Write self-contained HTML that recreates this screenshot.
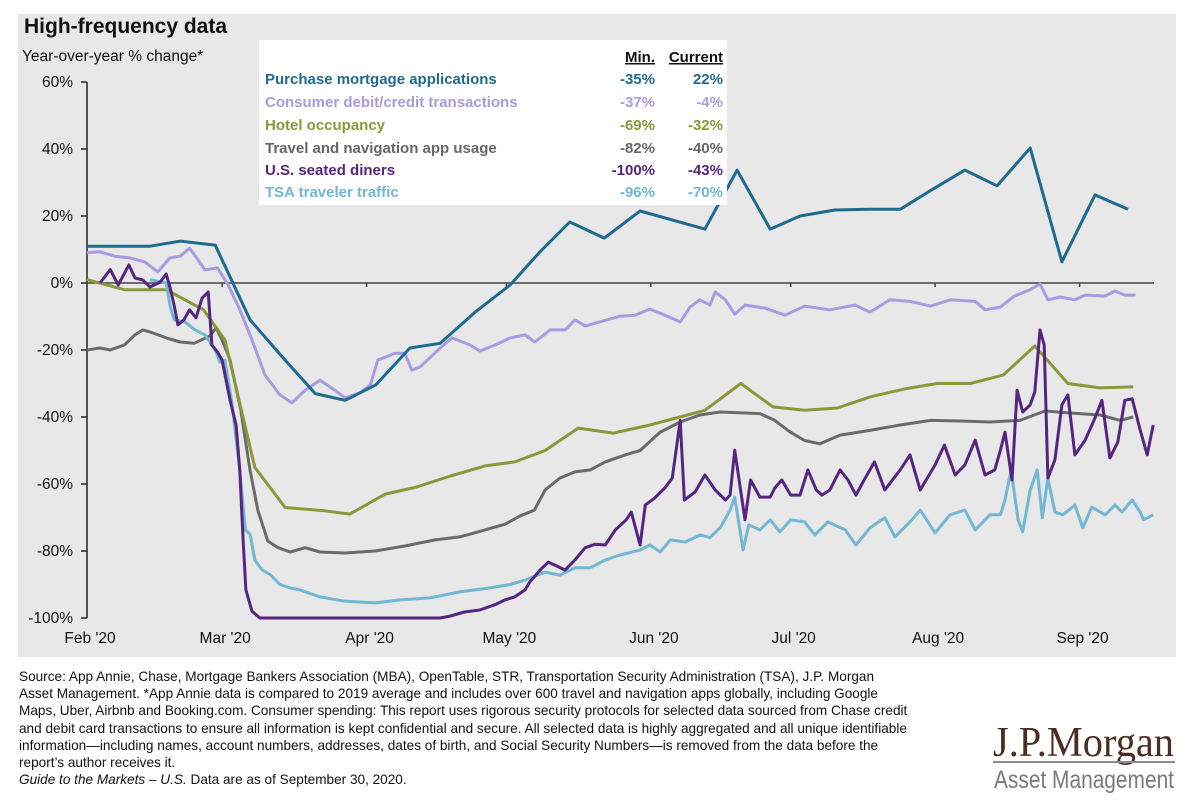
<!DOCTYPE html>
<html><head><meta charset="utf-8">
<style>
body{margin:0;width:1200px;height:807px;background:#fff;overflow:hidden;font-family:"Liberation Sans",Arial,sans-serif;}
svg text{font-family:"Liberation Sans",Arial,sans-serif;}
</style></head>
<body>
<svg id="chart" width="1200" height="807" viewBox="0 0 1200 807">
  <rect x="18" y="14" width="1158" height="643" fill="#e8e8e8"/>
  <text x="24" y="33" font-size="21" font-weight="bold" fill="#111">High-frequency data</text>
  <text x="22" y="61" font-size="15.5" fill="#111">Year-over-year % change*</text>
  <g id="axes"></g>
  <g id="lines"></g>
  <g>
    <rect x="259" y="40" width="468" height="165" fill="#fff"/>
    <g font-size="15" font-weight="bold">
      <text x="655" y="62" text-anchor="end" fill="#111" text-decoration="underline">Min.</text>
      <text x="723" y="62" text-anchor="end" fill="#111" text-decoration="underline">Current</text>
      <g fill="#1f6a8f"><text x="265" y="84">Purchase mortgage applications</text><text x="655" y="84" text-anchor="end">-35%</text><text x="723" y="84" text-anchor="end">22%</text></g>
      <g fill="#a99be0"><text x="265" y="107">Consumer debit/credit transactions</text><text x="655" y="107" text-anchor="end">-37%</text><text x="723" y="107" text-anchor="end">-4%</text></g>
      <g fill="#8c973a"><text x="265" y="130">Hotel occupancy</text><text x="655" y="130" text-anchor="end">-69%</text><text x="723" y="130" text-anchor="end">-32%</text></g>
      <g fill="#666"><text x="265" y="153">Travel and navigation app usage</text><text x="655" y="153" text-anchor="end">-82%</text><text x="723" y="153" text-anchor="end">-40%</text></g>
      <g fill="#55257f"><text x="265" y="175">U.S. seated diners</text><text x="655" y="175" text-anchor="end">-100%</text><text x="723" y="175" text-anchor="end">-43%</text></g>
      <g fill="#72b7d4"><text x="265" y="197">TSA traveler traffic</text><text x="655" y="197" text-anchor="end">-96%</text><text x="723" y="197" text-anchor="end">-70%</text></g>
    </g>
  </g>
  <g font-size="13.6" fill="#111">
    <text x="19" y="681">Source: App Annie, Chase, Mortgage Bankers Association (MBA), OpenTable, STR, Transportation Security Administration (TSA), J.P. Morgan</text>
    <text x="19" y="698">Asset Management. *App Annie data is compared to 2019 average and includes over 600 travel and navigation apps globally, including Google</text>
    <text x="19" y="715">Maps, Uber, Airbnb and Booking.com. Consumer spending: This report uses rigorous security protocols for selected data sourced from Chase credit</text>
    <text x="19" y="733">and debit card transactions to ensure all information is kept confidential and secure. All selected data is highly aggregated and all unique identifiable</text>
    <text x="19" y="750">information—including names, account numbers, addresses, dates of birth, and Social Security Numbers—is removed from the data before the</text>
    <text x="19" y="767">report’s author receives it.</text>
    <text x="19" y="784"><tspan font-style="italic">Guide to the Markets – U.S.</tspan> Data are as of September 30, 2020.</text>
  </g>
  <g>
    <text x="993" y="756" style="font-family:'Liberation Serif',serif" font-size="42" fill="#4b2d22" textLength="181" lengthAdjust="spacingAndGlyphs">J.P.Morgan</text>
    <line x1="993" y1="762" x2="1175" y2="762" stroke="#8a8a8a" stroke-width="2"/>
    <text x="994" y="788" font-size="25" fill="#7a7a7a" textLength="180" lengthAdjust="spacingAndGlyphs">Asset Management</text>
  </g>
</svg>
<script>
const yTicks=[60,40,20,0,-20,-40,-60,-80,-100];
const monthLabels=["Feb '20","Mar '20","Apr '20","May '20","Jun '20","Jul '20","Aug '20","Sep '20"];
const monthDays=[0,29,60,90,121,151,182,213];

const mortgageDays=[0,13.5,20,27.5,35,42.5,49,55.4,62,69.3,75.8,83.3,90.8,97.2,103.6,111,118.7,132.6,139.5,146.6,153,160.5,167.6,174.5,181.5,188.4,195.3,202.4,209.2,216.3,223.4];
const mortgageVals=[11,11,12.5,11.3,-11,-23,-33,-35,-30.4,-19.4,-18,-8.7,-0.6,9.3,18.2,13.4,21.5,16.1,33.7,16.1,20,21.8,22,22,28,33.7,29,40.3,6.3,26.3,22];

const hotelDays=[0,8,17,21,25,29.6,36,42.5,51,56.4,64,70.4,78,85.4,91.8,98.3,105.4,112.9,120.8,132.6,140.3,147.2,154,161,168,175.5,182.4,189.5,196.6,203.4,210.5,217.4,224.5];
const hotelVals=[1,-2,-2,-5,-8,-17,-55,-67,-68,-69,-63,-61,-57.6,-54.6,-53.4,-50,-43.3,-44.8,-42.4,-38,-30,-37,-38,-37.3,-34,-31.6,-30,-30,-27.5,-18.8,-30,-31.3,-31];

const travelDays=[0,2.8,5,8,10.3,12,13.5,17,20,23,26.4,27.7,29,30.7,33,35,36.7,38.8,41,43.6,46.8,50,55.4,61.8,68.2,74.7,80,85.4,89.7,93,96,98.3,101.5,104.7,108,111.2,115.5,118.7,123,127.3,131.5,135.8,141.2,144.4,147.6,150.9,154,157.3,161.6,168,174.5,181,187.3,193.8,200.2,205.6,211,217.4,221.7,224.5];
const travelVals=[-20,-19.4,-20,-18.5,-15.5,-14,-14.6,-16.4,-17.6,-18,-15.8,-13.4,-17,-23,-38,-56,-68,-77,-79,-80.3,-79,-80.3,-80.6,-80,-78.5,-76.7,-75.8,-73.7,-72,-69.5,-67.8,-61.8,-58.2,-56.4,-55.8,-53.4,-51.3,-50,-44.5,-41.5,-39.4,-38.5,-38.8,-39,-41,-44.5,-47,-48,-45.4,-44,-42.4,-41,-41.2,-41.5,-41,-38.2,-38.8,-39.4,-41,-40];

const consumerDays=[0,2.8,6,9.2,12.4,15.2,17.8,20,22,23.8,25.3,28,30.3,32.8,35.4,38.2,41.4,44,46.8,50,53.2,55.4,58.6,60.8,62.4,66,68.2,69.7,71.5,75.8,78.3,82.2,84.3,87.6,90.8,94,96.1,99.4,102.6,104.7,106.9,110,114.4,117.6,120.8,124,127.3,129.4,131.5,133.7,134.8,137,139,141.2,145.5,149.8,154,159.4,164.8,168,172.3,176.6,181,185.3,190.6,192.7,196,199,202.4,204.5,206.2,208.8,212,214.2,218.5,220.6,222.7,225];
const consumerVals=[9,9.3,8,7.5,6.3,3.3,7.5,8,10.4,7,3.9,4.5,-0.6,-8,-17,-27.5,-33.4,-35.8,-32,-29,-32,-34.3,-32.8,-30.4,-23,-21,-21,-26,-25,-19.4,-16.4,-18.5,-20.3,-18.5,-16.4,-15.5,-17.6,-14,-14,-11,-12.8,-11.6,-9.9,-9.6,-7.8,-9.6,-11.6,-7.2,-5,-6.6,-2.7,-5,-9.3,-6.6,-7.5,-9.6,-6.9,-8,-6.6,-8.7,-5,-5.5,-6.9,-5,-5.5,-8,-7.2,-3.9,-2,-0.3,-5,-4.2,-5,-3.6,-3.9,-2.4,-3.6,-3.6];

const dinersDays=[2.8,5,6.7,9,10.3,12,13.5,15.7,17,17.8,18.7,19.5,20.8,22,23.4,24.7,26,26.8,28,29,30.7,32,32.8,33.5,34.1,35.4,37.1,75.8,78,81,84.3,87.6,89.7,91.8,94,95,97.2,99,100.4,102.6,104.7,106.9,109,111.2,113.4,115.7,116.8,118.7,119.8,121.8,124,125.6,127.3,128.2,130.5,132.6,134.8,137,138,139,141.2,142.4,144.4,146.6,147.6,149.1,151,153,154.7,156.5,157.7,159.4,161.6,163.3,165,167,169,171.2,174.5,176.6,178.8,182,184,186.3,188.4,190.6,192.7,194.8,196,197,198.5,199.6,200.8,202.4,203.4,204.5,205.4,206.2,207.7,209.2,210.5,212,214.2,216.3,217.8,219.5,221.2,222.7,224.3,226,227.5,228.8];
const dinersVals=[0,4,-0.6,5.4,1.5,0.9,-1.2,0.3,2.7,-1.2,-6.6,-12.5,-11,-8,-10.4,-4.5,-2.7,-18.5,-20.6,-23,-35,-42.4,-56,-76.7,-91.6,-98,-100,-100,-99.4,-98.2,-97.6,-96,-94.6,-93.7,-91.6,-89.3,-85.7,-83.3,-84.2,-85.7,-82.7,-79,-78,-78.2,-73.7,-70.7,-68.4,-78.2,-66.3,-64.2,-61.2,-58.2,-41,-64.8,-62.4,-57.3,-61.8,-64.8,-63.3,-49.9,-70.7,-58.8,-63.9,-63.9,-61.2,-58.8,-63.3,-63.3,-55.8,-61.8,-63.3,-61.8,-55.8,-58.8,-63.3,-58.2,-53.4,-61.8,-55.8,-51.3,-61.8,-54.3,-48.4,-57.3,-54.3,-46.9,-57.3,-55.8,-49.9,-44.5,-58.8,-32,-38.5,-36.4,-32.5,-14,-18.5,-58.2,-52.8,-36.4,-33.4,-51.3,-46.9,-40.3,-35,-52.2,-47.5,-35,-34.6,-43.9,-51.3,-42.4];

const tsaDays=[13.5,17,17.8,18.7,21,23.2,25.3,27.5,28.5,29.6,31,32.8,34,35,36,37.6,39.3,41.4,43.6,45.7,50,55.4,61.8,67.2,73.6,80,86.5,90.8,94,98.3,101.5,104.7,108,111.2,114.4,118.7,120.8,123,125.2,128.4,131.6,133.7,136,138,139,140.8,142,144.4,146.6,148.7,151,154,156.2,159,162.7,165,168,171.2,173.4,176.6,178.8,182,185.2,188.4,190.6,193.8,196,197,198.3,199.8,200.8,202.4,203.9,205,206.2,207.7,209.4,212,213.7,215.6,218.5,220.6,222.1,224.3,226,226.7,228.8];
const tsaVals=[1,0,-6.6,-11,-11.6,-14,-15.5,-20,-23.6,-23,-35,-56,-73.7,-75,-82.7,-85.7,-87,-90,-91,-91.6,-93.7,-95,-95.5,-94.6,-94,-92.2,-91,-90,-88.7,-86.3,-87.2,-85,-85,-82.7,-81.2,-79.7,-78.2,-80.3,-76.7,-77.3,-75.2,-76,-72.8,-67.8,-63.9,-79.7,-72.2,-73.7,-70.7,-74.3,-70.7,-71.3,-75.2,-71.3,-73.7,-78.2,-73.1,-70.1,-75.8,-71.3,-67.8,-74.6,-69.2,-67.8,-73.7,-69.2,-69.2,-64.8,-55.8,-70.7,-74.3,-61.8,-55.8,-70.1,-58.2,-68.4,-69.2,-66.3,-73.1,-66.9,-69.2,-66.3,-68.4,-64.8,-68.4,-70.7,-69.2];

const X0=87,PXDAY=4.66,Y0=283,PXPCT=3.35;
function xs(d){return X0+d*PXDAY;}
function ys(v){return Y0-v*PXPCT;}
const NS="http://www.w3.org/2000/svg";
const axes=document.getElementById('axes');
const lines=document.getElementById('lines');
function mk(tag,attrs,parent){const e=document.createElementNS(NS,tag);for(const k in attrs)e.setAttribute(k,attrs[k]);parent.appendChild(e);return e;}

yTicks.forEach(v=>{
  const t=mk('text',{x:73,y:ys(v)+5,'text-anchor':'end','font-size':15.5,fill:'#111'},axes);
  t.textContent=v+'%';
  
  
  const tk=mk('line',{x1:xs(0)-6,x2:xs(0),y1:ys(v),y2:ys(v),stroke:'#222','stroke-width':1.5},axes);
  
  
});
const ya=mk('line',{x1:xs(0),x2:xs(0),y1:ys(60),y2:ys(-100),stroke:'#222','stroke-width':1.5},axes);


const xa=mk('line',{x1:xs(0),x2:1154,y1:ys(0),y2:ys(0),stroke:'#444','stroke-width':1.5},axes);


monthDays.forEach((d,i)=>{
  const tk=mk('line',{x1:xs(d),x2:xs(d),y1:ys(0),y2:ys(0)+4,stroke:'#444','stroke-width':1.5},axes);
  
  
  const t=mk('text',{x:xs(d)+3,y:643,'text-anchor':'middle','font-size':15.5,fill:'#111'},axes);
  t.textContent=monthLabels[i];
  
  
});

function drawLine(days,vals,color,name){
  const p=days.map((d,i)=>xs(d).toFixed(1)+','+ys(vals[i]).toFixed(1)).join(' ');
  const el=mk('polyline',{points:p,fill:'none',stroke:color,'stroke-width':3,'stroke-linejoin':'round'},lines);
  
  
}
drawLine(travelDays,travelVals,'#6a6a6a','travel-app-line');
drawLine(hotelDays,hotelVals,'#8c973a','hotel-occupancy-line');
drawLine(consumerDays,consumerVals,'#a99be0','consumer-transactions-line');
drawLine(tsaDays,tsaVals,'#72b7d4','tsa-traffic-line');
drawLine(dinersDays,dinersVals,'#55257f','seated-diners-line');
drawLine(mortgageDays,mortgageVals,'#1f6a8f','mortgage-applications-line');
</script>
</body></html>
